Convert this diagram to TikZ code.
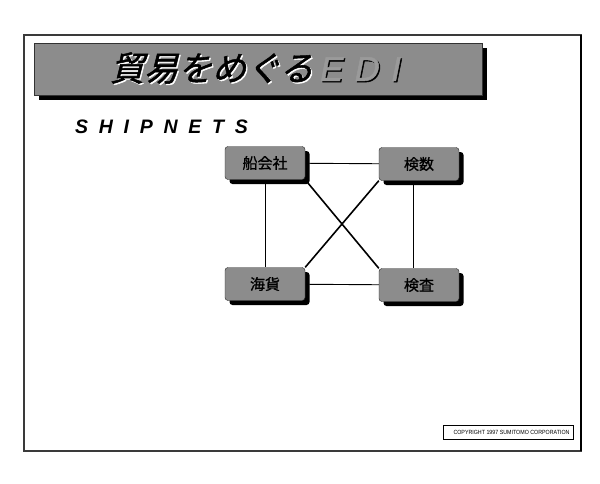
\documentclass[tikz,border=0pt]{standalone}
\usepackage{fontspec}
\setmainfont{Liberation Sans}
\newfontfamily\jptitle[FakeSlant=0.25,FakeBold=1.5]{Noto Sans CJK JP}
\newfontfamily\jpnode[FakeBold=1]{Noto Sans CJK JP}
\newfontfamily\edifont[LetterSpace=35,FakeSlant=0.2,FakeBold=1.5]{Liberation Sans}
\newfontfamily\shipfont[LetterSpace=55]{Liberation Sans}
\usetikzlibrary{shadows,backgrounds}
\definecolor{dither}{HTML}{8C8C8C}
\definecolor{framecol}{HTML}{3A3A3A}
\definecolor{edigray}{HTML}{9A9A9A}
\newcommand\mytitle[2]{{\fontsize{34}{36}\selectfont{\jptitle\color{#1}貿易をめぐる}\hspace{5pt}{\edifont\color{#2}EDI}}}
\tikzset{
  nbox/.style={draw=black!85, fill=dither, rounded corners=3pt,
    minimum width=80pt, minimum height=33pt, inner sep=0pt,
    font=\jpnode\fontsize{15}{16}\selectfont,
    drop shadow={shadow xshift=4.5pt, shadow yshift=-4.5pt, fill=black, opacity=1}},
  thinline/.style={draw=black, line width=0.9pt},
  thickline/.style={draw=black, line width=1.6pt},
  titlebar/.style={draw=black!80, fill=dither, minimum width=448pt, minimum height=52pt,
    inner sep=0pt, drop shadow={shadow xshift=5pt, shadow yshift=-5pt, fill=black, opacity=1}}
}
\begin{document}
\begin{tikzpicture}[x=1pt,y=-1pt]
\useasboundingbox (0,0) rectangle (600,483);
% frame
\draw[framecol, line width=1.1pt] (24,35) rectangle (581,451);
\draw[black, line width=1.6pt] (581,35) -- (581,451);
% title bar
\node[titlebar] (bar) at (258,69) {};
\node[anchor=west, inner sep=0pt] (titlehl) at (111.3,69.3) {\mytitle{white}{black}};
\node[anchor=west, inner sep=0pt] (title) at (110,68) {\mytitle{black}{edigray}};
% subtitle
\node[anchor=west, inner sep=0pt] (ship) at (75,127)
  {\shipfont\bfseries\itshape\fontsize{19.5}{20}\selectfont SHIPNETS};
% boxes
\node[nbox] (sen)   at (265,163) {船会社};
\node[nbox] (kensu) at (419,164) {検数};
\node[nbox] (kaika) at (265,284) {海貨};
\node[nbox] (kensa) at (419,285) {検査};
% copyright
\node[draw=black, line width=0.8pt, minimum width=130pt, minimum height=14pt, inner sep=0pt,
  drop shadow={shadow xshift=1pt, shadow yshift=-1pt, fill=black, opacity=1}, fill=white] (copybox) at (508,432) {};
\node[inner sep=0pt] (copytext) at (511.5,432)
  {\resizebox{116pt}{4.2pt}{COPYRIGHT 1997 SUMITOMO CORPORATION}};
\begin{pgfonlayer}{background}
  \fill[white] (0,0) rectangle (600,483);
  \draw[thinline] (sen) -- (kensu);
  \draw[thinline] (kaika) -- (kensa);
  \draw[thinline] (sen) -- (kaika);
  \draw[thinline] ([xshift=-6pt]kensu.south) -- ([xshift=-6pt]kensa.north);
  \draw[thickline] (sen.south east) -- (kensa.north west);
  \draw[thickline] (kensu.south west) -- (kaika.north east);
\end{pgfonlayer}
\end{tikzpicture}
\end{document}
